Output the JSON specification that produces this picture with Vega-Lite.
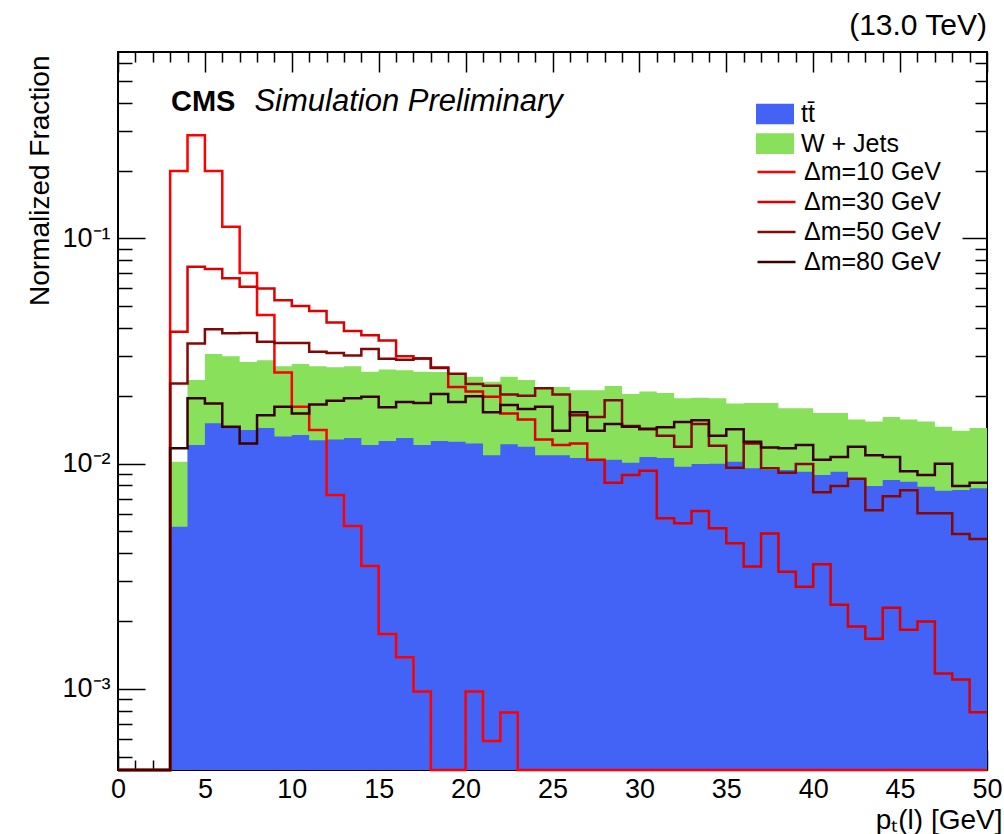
{
  "$schema": "https://vega.github.io/schema/vega-lite/v6.json",
  "width": 869,
  "height": 718,
  "autosize": {"type": "none"},
  "padding": {"left": 118, "top": 52, "right": 17, "bottom": 64},
  "background": "white",
  "config": {
    "font": "Liberation Sans",
    "view": {"stroke": "black", "strokeWidth": 2},
    "axis": {"domain": false, "grid": false, "labelFont": "Liberation Sans", "titleFont": "Liberation Sans", "labelColor": "black", "titleColor": "black", "tickColor": "black", "tickWidth": 1.5, "labelFontSize": 27, "titleFontSize": 28, "titleFontWeight": "normal", "labelFlush": false, "labelOverlap": false, "labelBound": false},
    "legend": {"labelFont": "Liberation Sans", "labelColor": "black", "labelFontSize": 25, "padding": 0, "labelOffset": 7}
  },
  "title": {"text": "(13.0 TeV)", "anchor": "end", "frame": "group", "fontSize": 30, "fontWeight": "normal", "offset": 8, "color": "black", "font": "Liberation Sans"},
  "data": {"values": [
    {"lo":0,"hi":1,"m10":0,"m30":0,"m50":0,"m80":0},
    {"lo":1,"hi":2,"m10":0,"m30":0,"m50":0,"m80":0},
    {"lo":2,"hi":3,"m10":0,"m30":0,"m50":0,"m80":0},
    {"lo":3,"hi":4,"tt":0.00525,"wj":0.0102,"m10":0.1995,"m30":0.0385,"m50":0.0227,"m80":0.0117},
    {"lo":4,"hi":5,"tt":0.0121,"wj":0.0235,"m10":0.287,"m30":0.0748,"m50":0.0342,"m80":0.0195},
    {"lo":5,"hi":6,"tt":0.0151,"wj":0.0307,"m10":0.1995,"m30":0.0731,"m50":0.0395,"m80":0.0185},
    {"lo":6,"hi":7,"tt":0.0146,"wj":0.0300,"m10":0.1126,"m30":0.0665,"m50":0.0379,"m80":0.0146},
    {"lo":7,"hi":8,"tt":0.0141,"wj":0.0283,"m10":0.0702,"m30":0.0610,"m50":0.0380,"m80":0.0123},
    {"lo":8,"hi":9,"tt":0.0144,"wj":0.0288,"m10":0.0457,"m30":0.0600,"m50":0.0348,"m80":0.0164},
    {"lo":9,"hi":10,"tt":0.0132,"wj":0.0271,"m10":0.0254,"m30":0.0532,"m50":0.0343,"m80":0.0179},
    {"lo":10,"hi":11,"tt":0.0134,"wj":0.0277,"m10":0.0179,"m30":0.0501,"m50":0.0343,"m80":0.0167},
    {"lo":11,"hi":12,"tt":0.0127,"wj":0.0271,"m10":0.0141,"m30":0.0476,"m50":0.0314,"m80":0.0183},
    {"lo":12,"hi":13,"tt":0.0128,"wj":0.0268,"m10":0.00726,"m30":0.0423,"m50":0.0310,"m80":0.0190},
    {"lo":13,"hi":14,"tt":0.0130,"wj":0.0271,"m10":0.00528,"m30":0.0388,"m50":0.0302,"m80":0.0195},
    {"lo":14,"hi":15,"tt":0.0121,"wj":0.0256,"m10":0.00351,"m30":0.0372,"m50":0.0323,"m80":0.0198},
    {"lo":15,"hi":16,"tt":0.0126,"wj":0.0262,"m10":0.00175,"m30":0.0352,"m50":0.0292,"m80":0.0178},
    {"lo":16,"hi":17,"tt":0.0130,"wj":0.0260,"m10":0.00138,"m30":0.0300,"m50":0.0289,"m80":0.0188},
    {"lo":17,"hi":18,"tt":0.0121,"wj":0.0256,"m10":0.000972,"m30":0.0293,"m50":0.0293,"m80":0.0186},
    {"lo":18,"hi":19,"tt":0.0126,"wj":0.0255,"m10":0,"m30":0.0267,"m50":0.0266,"m80":0.0204},
    {"lo":19,"hi":20,"tt":0.0125,"wj":0.0249,"m10":0,"m30":0.0219,"m50":0.0251,"m80":0.0188},
    {"lo":20,"hi":21,"tt":0.0123,"wj":0.0243,"m10":0.000972,"m30":0.0209,"m50":0.0226,"m80":0.0199},
    {"lo":21,"hi":22,"tt":0.0109,"wj":0.0231,"m10":0.000587,"m30":0.0198,"m50":0.0222,"m80":0.0169},
    {"lo":22,"hi":23,"tt":0.0122,"wj":0.0243,"m10":0.000784,"m30":0.0167,"m50":0.0203,"m80":0.0182},
    {"lo":23,"hi":24,"tt":0.0119,"wj":0.0235,"m10":0,"m30":0.0157,"m50":0.0200,"m80":0.0175},
    {"lo":24,"hi":25,"tt":0.0109,"wj":0.0219,"m10":0,"m30":0.0128,"m50":0.0216,"m80":0.0179},
    {"lo":25,"hi":26,"tt":0.0109,"wj":0.0219,"m10":0,"m30":0.0121,"m50":0.0203,"m80":0.0140},
    {"lo":26,"hi":27,"tt":0.0106,"wj":0.0212,"m10":0,"m30":0.0123,"m50":0.0164,"m80":0.0169},
    {"lo":27,"hi":28,"tt":0.0104,"wj":0.0212,"m10":0,"m30":0.0104,"m50":0.0161,"m80":0.0140},
    {"lo":28,"hi":29,"tt":0.0104,"wj":0.0221,"m10":0,"m30":0.00823,"m50":0.0191,"m80":0.0150},
    {"lo":29,"hi":30,"tt":0.0101,"wj":0.0204,"m10":0,"m30":0.00890,"m50":0.0147,"m80":0.0146},
    {"lo":30,"hi":31,"tt":0.0107,"wj":0.0209,"m10":0,"m30":0.00930,"m50":0.0142,"m80":0.0143},
    {"lo":31,"hi":32,"tt":0.0106,"wj":0.0206,"m10":0,"m30":0.00572,"m50":0.0133,"m80":0.0145},
    {"lo":32,"hi":33,"tt":0.00969,"wj":0.0195,"m10":0,"m30":0.00543,"m50":0.0119,"m80":0.0153},
    {"lo":33,"hi":34,"tt":0.00996,"wj":0.0196,"m10":0,"m30":0.00616,"m50":0.0150,"m80":0.0156},
    {"lo":34,"hi":35,"tt":0.0100,"wj":0.0195,"m10":0,"m30":0.00516,"m50":0.0120,"m80":0.0133},
    {"lo":35,"hi":36,"tt":0.0102,"wj":0.0185,"m10":0,"m30":0.00443,"m50":0.00958,"m80":0.0142},
    {"lo":36,"hi":37,"tt":0.00953,"wj":0.0186,"m10":0,"m30":0.00349,"m50":0.0123,"m80":0.0125},
    {"lo":37,"hi":38,"tt":0.00937,"wj":0.0186,"m10":0,"m30":0.00490,"m50":0.00953,"m80":0.0118},
    {"lo":38,"hi":39,"tt":0.00937,"wj":0.0176,"m10":0,"m30":0.00331,"m50":0.00911,"m80":0.0117},
    {"lo":39,"hi":40,"tt":0.00921,"wj":0.0176,"m10":0,"m30":0.00284,"m50":0.00996,"m80":0.0121},
    {"lo":40,"hi":41,"tt":0.00890,"wj":0.0168,"m10":0,"m30":0.00357,"m50":0.00747,"m80":0.0104},
    {"lo":41,"hi":42,"tt":0.00921,"wj":0.0168,"m10":0,"m30":0.00236,"m50":0.00795,"m80":0.0107},
    {"lo":42,"hi":43,"tt":0.00846,"wj":0.0157,"m10":0,"m30":0.00189,"m50":0.00856,"m80":0.0119},
    {"lo":43,"hi":44,"tt":0.00795,"wj":0.0154,"m10":0,"m30":0.00167,"m50":0.00621,"m80":0.0109},
    {"lo":44,"hi":45,"tt":0.00846,"wj":0.0161,"m10":0,"m30":0.00229,"m50":0.00716,"m80":0.0107},
    {"lo":45,"hi":46,"tt":0.00831,"wj":0.0157,"m10":0,"m30":0.00183,"m50":0.00761,"m80":0.00924},
    {"lo":46,"hi":47,"tt":0.00790,"wj":0.0154,"m10":0,"m30":0.00199,"m50":0.00602,"m80":0.00890},
    {"lo":47,"hi":48,"tt":0.00758,"wj":0.0146,"m10":0,"m30":0.00117,"m50":0.00602,"m80":0.00999},
    {"lo":48,"hi":49,"tt":0.00764,"wj":0.0140,"m10":0,"m30":0.00110,"m50":0.00487,"m80":0.00795},
    {"lo":49,"hi":50,"tt":0.00777,"wj":0.0144,"m10":0,"m30":0.000787,"m50":0.00463,"m80":0.00823}
  ]},
  "resolve": {"scale": {"x": "shared", "y": "shared"}, "axis": {"x": "independent", "y": "independent"}},
  "layer": [
    {
      "transform": [
        {"fold": ["wj"], "as": ["s", "v"]},
        {"filter": "isValid(datum.v)"},
        {"fold": ["lo", "hi"], "as": ["edge", "x"]}
      ],
      "mark": {"type": "area", "interpolate": "linear"},
      "encoding": {
        "x": {"field": "x", "type": "quantitative",
          "scale": {"domain": [0, 50], "nice": false, "zero": false},
          "axis": {"orient": "bottom",
            "values": [0,1,2,3,4,5,6,7,8,9,10,11,12,13,14,15,16,17,18,19,20,21,22,23,24,25,26,27,28,29,30,31,32,33,34,35,36,37,38,39,40,41,42,43,44,45,46,47,48,49,50],
            "labelExpr": "datum.value % 5 == 0 ? datum.label : ''",
            "tickSize": {"condition": {"test": "datum.value % 5 == 0", "value": -20}, "value": -10},
            "labelPadding": 26,
            "title": "pₜ(l) [GeV]", "titleX": 884, "titleY": 58, "titleAlign": "right", "titleBaseline": "alphabetic", "titleAnchor": null}},
        "y": {"field": "v", "type": "quantitative", "stack": null,
          "scale": {"type": "log", "domain": [0.000436, 0.673], "nice": false, "clamp": true},
          "axis": {"orient": "left",
            "values": [0.0005,0.0006,0.0007,0.0008,0.0009,0.001,0.002,0.003,0.004,0.005,0.006,0.007,0.008,0.009,0.01,0.02,0.03,0.04,0.05,0.06,0.07,0.08,0.09,0.1,0.2,0.3,0.4,0.5,0.6],
            "labelExpr": "datum.value == 0.1 ? '10⁻¹' : datum.value == 0.01 ? '10⁻²' : datum.value == 0.001 ? '10⁻³' : ''",
            "tickSize": {"condition": {"test": "datum.value == 0.1 || datum.value == 0.01 || datum.value == 0.001", "value": -27}, "value": -14},
            "labelPadding": 35,
            "title": "Normalized Fraction", "titleAngle": 270, "titleX": -78, "titleY": 3, "titleAlign": "right", "titleBaseline": "middle"}},
        "fill": {"field": "s", "type": "nominal",
          "scale": {"domain": ["tt", "wj"], "range": ["#4363f6", "#89e05a"]},
          "legend": {"orient": "none", "legendX": 638, "legendY": 49, "title": null,
            "symbolType": "M-1,-0.545H1V0.545H-1Z", "symbolSize": 1444, "symbolStrokeWidth": 0,
            "labelExpr": "datum.value == 'tt' ? 'tt̄' : 'W + Jets'",
            "clipHeight": 26, "rowPadding": 3.6}},
        "order": [{"field": "x", "type": "quantitative"}, {"field": "edge", "type": "nominal"}]
      }
    },
    {
      "transform": [
        {"fold": ["tt"], "as": ["s", "v"]},
        {"filter": "isValid(datum.v)"},
        {"fold": ["lo", "hi"], "as": ["edge", "x"]}
      ],
      "mark": {"type": "area", "interpolate": "linear"},
      "encoding": {
        "x": {"field": "x", "type": "quantitative", "axis": null},
        "y": {"field": "v", "type": "quantitative", "stack": null, "axis": null},
        "fill": {"field": "s", "type": "nominal"},
        "order": [{"field": "x", "type": "quantitative"}, {"field": "edge", "type": "nominal"}]
      }
    },
    {
      "transform": [
        {"fold": ["m10", "m30", "m50", "m80"], "as": ["s", "v"]},
        {"fold": ["lo", "hi"], "as": ["edge", "x"]}
      ],
      "mark": {"type": "line", "strokeWidth": 2.5, "interpolate": "linear", "invalid": null},
      "encoding": {
        "x": {"field": "x", "type": "quantitative",
          "axis": {"orient": "top",
            "values": [0,1,2,3,4,5,6,7,8,9,10,11,12,13,14,15,16,17,18,19,20,21,22,23,24,25,26,27,28,29,30,31,32,33,34,35,36,37,38,39,40,41,42,43,44,45,46,47,48,49,50],
            "labels": false, "title": null,
            "tickSize": {"condition": {"test": "datum.value % 5 == 0", "value": -20}, "value": -10}}},
        "y": {"field": "v", "type": "quantitative",
          "axis": {"orient": "right",
            "values": [0.0005,0.0006,0.0007,0.0008,0.0009,0.001,0.002,0.003,0.004,0.005,0.006,0.007,0.008,0.009,0.01,0.02,0.03,0.04,0.05,0.06,0.07,0.08,0.09,0.1,0.2,0.3,0.4,0.5,0.6],
            "labels": false, "title": null,
            "tickSize": {"condition": {"test": "datum.value == 0.1 || datum.value == 0.01 || datum.value == 0.001", "value": -25}, "value": -12}}},
        "stroke": {"field": "s", "type": "nominal",
          "scale": {"domain": ["m10", "m30", "m50", "m80"], "range": ["#ff0000", "#dc0000", "#820808", "#3a0000"]},
          "legend": {"orient": "none", "legendX": 638, "legendY": 107, "title": null,
            "symbolType": "stroke", "symbolSize": 1444, "symbolStrokeWidth": 2.5,
            "labelExpr": "'Δm=' + slice(datum.value, 1) + ' GeV'",
            "clipHeight": 26, "rowPadding": 4}},
        "order": [{"field": "x", "type": "quantitative"}, {"field": "edge", "type": "nominal"}]
      }
    },
    {
      "data": {"values": [{}]},
      "mark": {"type": "text", "text": "CMS", "font": "Liberation Sans", "fontWeight": "bold", "fontSize": 29, "align": "left", "baseline": "alphabetic", "color": "black"},
      "encoding": {
        "x": {"datum": 3.05, "type": "quantitative", "axis": null},
        "y": {"datum": 0.368, "type": "quantitative", "axis": null}
      }
    },
    {
      "data": {"values": [{}]},
      "mark": {"type": "text", "text": "Simulation Preliminary", "font": "Liberation Sans", "fontStyle": "italic", "fontSize": 31, "align": "left", "baseline": "alphabetic", "color": "black"},
      "encoding": {
        "x": {"datum": 7.85, "type": "quantitative", "axis": null},
        "y": {"datum": 0.368, "type": "quantitative", "axis": null}
      }
    }
  ]
}
